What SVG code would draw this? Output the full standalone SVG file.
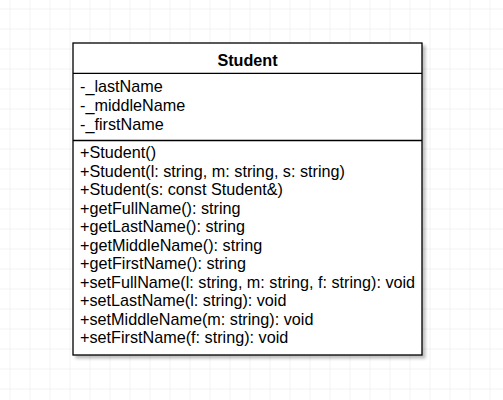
<svg xmlns="http://www.w3.org/2000/svg" width="503" height="400" viewBox="0 0 503 400">
<defs>
<pattern id="grid" x="9.5" y="8.5" width="20" height="20" patternUnits="userSpaceOnUse">
<path d="M0 0H20M0 0V20" fill="none" stroke="#e8e8e8" stroke-width="1"/>
</pattern>
<filter id="shadow" x="-10%" y="-10%" width="120%" height="120%">
<feGaussianBlur in="SourceAlpha" stdDeviation="1.5"/>
<feOffset dx="3" dy="3" result="b"/>
<feComponentTransfer><feFuncA type="linear" slope="0.25"/></feComponentTransfer>
<feMerge><feMergeNode/><feMergeNode in="SourceGraphic"/></feMerge>
</filter>
<style>
.t{font-family:"Liberation Sans",Arial,sans-serif;font-size:16.2px;fill:#000}
.h{font-weight:bold;text-anchor:middle}
.line{stroke:#000;stroke-width:1.3;fill:none}
</style>
</defs>
<rect width="503" height="400" fill="#fff"/>
<rect width="503" height="400" fill="url(#grid)"/>
<g id="student">
<rect x="73" y="43" width="349" height="312" fill="#fff" stroke="#000" stroke-width="1.3" filter="url(#shadow)"/>
<line class="line" x1="73" y1="73.3" x2="422" y2="73.3"/>
<line class="line" x1="73" y1="140.5" x2="422" y2="140.5"/>
<text class="t h" x="247.5" y="65.7">Student</text>
<text class="t" x="80" y="92.3">-_lastName</text>
<text class="t" x="80" y="111">-_middleName</text>
<text class="t" x="80" y="129.7">-_firstName</text>
<text class="t" x="80" y="158.3">+Student()</text>
<text class="t" x="80" y="176.8">+Student(l: string, m: string, s: string)</text>
<text class="t" x="80" y="195.3">+Student(s: const Student&amp;)</text>
<text class="t" x="80" y="213.8">+getFullName(): string</text>
<text class="t" x="80" y="232.3">+getLastName(): string</text>
<text class="t" x="80" y="250.8">+getMiddleName(): string</text>
<text class="t" x="80" y="269.3">+getFirstName(): string</text>
<text class="t" x="80" y="287.8">+setFullName(l: string, m: string, f: string): void</text>
<text class="t" x="80" y="306.3">+setLastName(l: string): void</text>
<text class="t" x="80" y="324.8">+setMiddleName(m: string): void</text>
<text class="t" x="80" y="343.3">+setFirstName(f: string): void</text>
</g>
<g id="connectors"/>
</svg>
